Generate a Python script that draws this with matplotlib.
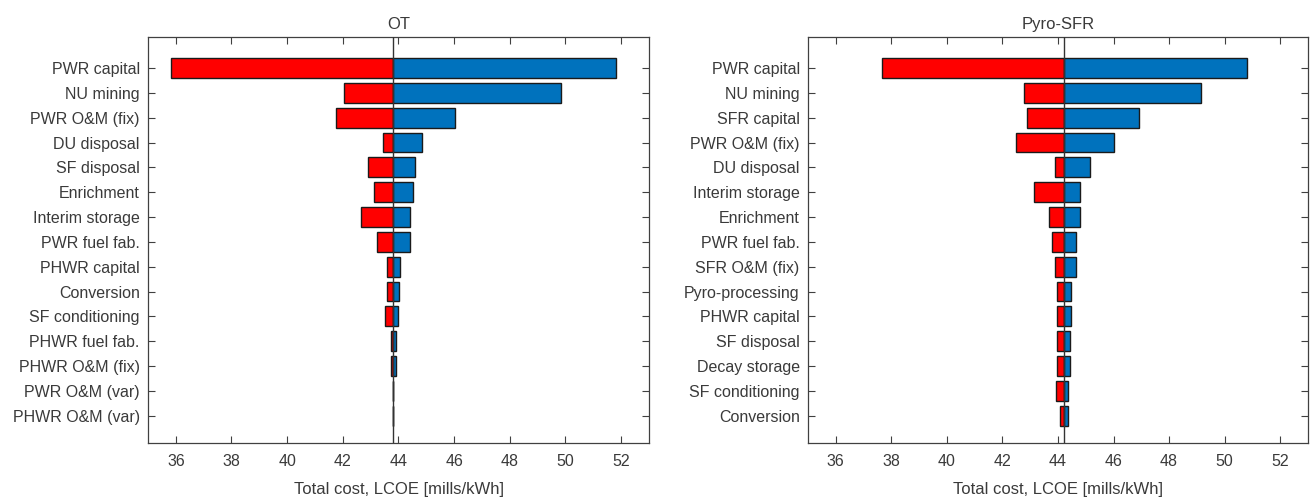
import numpy as np
import matplotlib
matplotlib.use('Agg')
import matplotlib.pyplot as plt

plt.rcParams['font.family'] = ['Liberation Sans', 'DejaVu Sans']

# Panel OT
ot_labels = ['PWR capital', 'NU mining', 'PWR O&M (fix)', 'DU disposal', 'SF disposal',
             'Enrichment', 'Interim storage', 'PWR fuel fab.', 'PHWR capital', 'Conversion',
             'SF conditioning', 'PHWR fuel fab.', 'PHWR O&M (fix)', 'PWR O&M (var)',
             'PHWR O&M (var)']
ot_base = 43.81
ot_low = [35.82, 42.05, 41.74, 43.45, 42.91, 43.13, 42.64, 43.21, 43.58, 43.58,
          43.52, 43.72, 43.72, 43.81, 43.81]
ot_high = [51.82, 49.85, 46.03, 44.86, 44.61, 44.51, 44.42, 44.43, 44.05, 44.02,
           43.98, 43.90, 43.90, 43.81, 43.81]

# Panel Pyro-SFR
pyro_labels = ['PWR capital', 'NU mining', 'SFR capital', 'PWR O&M (fix)', 'DU disposal',
               'Interim storage', 'Enrichment', 'PWR fuel fab.', 'SFR O&M (fix)',
               'Pyro-processing', 'PHWR capital', 'SF disposal', 'Decay storage',
               'SF conditioning', 'Conversion']
pyro_base = 44.20
pyro_low = [37.65, 42.77, 42.90, 42.50, 43.89, 43.14, 43.66, 43.78, 43.89, 43.98,
            43.98, 43.98, 43.98, 43.94, 44.08]
pyro_high = [50.79, 49.15, 46.90, 46.02, 45.15, 44.79, 44.79, 44.65, 44.65, 44.47,
             44.47, 44.43, 44.43, 44.36, 44.36]

RED = '#FF0000'
BLUE = '#0072BD'
GRAY = '#404040'
TXT = '#3a3a3a'

W, H = 1312, 499
fig = plt.figure(figsize=(W / 100, H / 100), dpi=100)


def tornado(rect, title, labels, base, low, high):
    ax = fig.add_axes(rect)
    y = np.arange(len(labels))
    low = np.array(low)
    high = np.array(high)
    ax.barh(y, base - low, left=low, height=0.8, color=RED, edgecolor='#1a1a1a', linewidth=1.0, zorder=2)
    ax.barh(y, high - base, left=base, height=0.8, color=BLUE, edgecolor='#1a1a1a', linewidth=1.0, zorder=2)
    ax.axvline(base, color='#333333', linewidth=1.0, zorder=3)
    ax.set_xlim(35, 53)
    ax.set_ylim(15.1, -1.25)
    ax.set_xticks(np.arange(36, 53, 2))
    ax.set_yticks(y)
    ax.set_yticklabels(labels)
    ax.tick_params(direction='in', top=True, right=True, length=5, width=0.8,
                   colors=GRAY, labelcolor=TXT, labelsize=11.5)
    ax.tick_params(axis='x', pad=8)
    ax.tick_params(axis='y', pad=6)
    for s in ax.spines.values():
        s.set_color(GRAY)
        s.set_linewidth(0.9)
    ax.set_title(title, fontsize=12, color=TXT, pad=6)
    ax.set_xlabel('Total cost, LCOE [mills/kWh]', fontsize=12, color=TXT, labelpad=9)
    return ax


tornado([148 / W, 56 / H, 501 / W, 406 / H], 'OT', ot_labels, ot_base, ot_low, ot_high)
tornado([808 / W, 56 / H, 500 / W, 406 / H], 'Pyro-SFR', pyro_labels, pyro_base, pyro_low, pyro_high)

fig.savefig('out.png', dpi=100)
